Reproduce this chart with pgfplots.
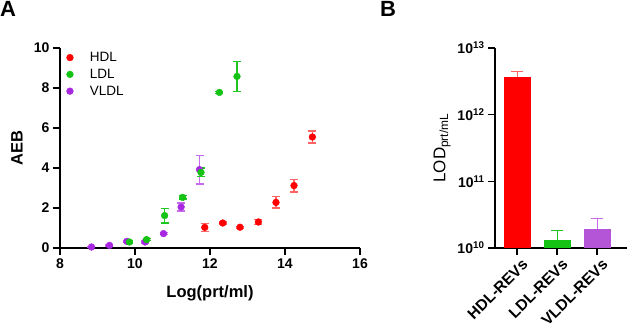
\documentclass[border=0pt]{standalone}
\usepackage{fontspec}
\setmainfont{Liberation Sans}
\usepackage{pgfplots}
\pgfplotsset{compat=1.18}
\usepackage{pgfplotstable}

\definecolor{hdl}{RGB}{255,0,0}
\definecolor{ldl}{RGB}{20,195,20}
\definecolor{vldl}{RGB}{168,40,225}
\definecolor{hdlerr}{RGB}{255,100,100}
\definecolor{ldlgreen}{RGB}{30,200,30}
\definecolor{vldlerr}{RGB}{200,105,235}
\definecolor{vldlbar}{RGB}{180,85,215}

% AEB versus particle concentration: x, y, error
\pgfplotstableread{
x y e
11.86 1.03 0.20
12.34 1.25 0.05
12.80 1.04 0.05
13.29 1.30 0.12
13.76 2.28 0.28
14.24 3.12 0.32
14.73 5.55 0.30
}\hdltab
\pgfplotstableread{
x y e
9.85 0.30 0.05
10.31 0.42 0.05
10.79 1.62 0.37
11.27 2.53 0.08
11.76 3.78 0.22
12.25 7.78 0.05
12.72 8.58 0.75
}\ldltab
\pgfplotstableread{
x y e
8.84 0.05 0.02
9.32 0.13 0.03
9.78 0.33 0.05
10.27 0.30 0.05
10.76 0.72 0.05
11.23 2.05 0.20
11.72 3.92 0.72
}\vldltab

\pgfplotsset{
  panel/.style={
    scale only axis,
    axis x line*=bottom, axis y line*=left,
    axis line style={line width=1.8pt},
    every tick/.style={black, line width=1.6pt},
    tick align=outside, major tick length=7pt,
    tick label style={font=\bfseries\fontsize{14}{14}\selectfont},
    /pgf/number format/assume math mode=true,
  },
  errstyle/.style={error bars/.cd, y dir=both, y explicit,
    error bar style={line width=1.1pt, draw=#1},
    error mark options={rotate=90, mark size=4pt, line width=1.1pt, draw=#1}},
}

\begin{document}
\begin{tikzpicture}
\useasboundingbox (0,0) rectangle (627pt,329pt);

\node[anchor=north west, inner sep=0pt, font=\bfseries\fontsize{22}{22}\selectfont] at (0pt,328pt) {A};
\node[anchor=north west, inner sep=0pt, font=\bfseries\fontsize{22}{22}\selectfont] at (380pt,328pt) {B};

% Panel A
\begin{axis}[panel,
  at={(60pt,81pt)}, anchor=south west,
  width=300pt, height=200pt,
  xmin=8, xmax=16, ymin=0, ymax=10,
  xtick={8,10,12,14,16}, ytick={0,2,4,6,8,10},
  clip=false,
  xlabel={Log(prt/ml)}, ylabel={AEB},
  every axis x label/.style={at={(rel axis cs:0.5,0)}, yshift=-45pt, anchor=center,
    font=\bfseries\fontsize{16.5}{16.5}\selectfont},
  every axis y label/.style={at={(rel axis cs:0,0.5)}, xshift=-43pt, rotate=90, anchor=center,
    font=\bfseries\fontsize{16.5}{16.5}\selectfont},
  legend style={at={(axis cs:8.02,10.0)}, anchor=north west, draw=none, fill=none,
    font=\fontsize{13.5}{13.5}\selectfont, row sep=2pt},
  legend cell align=left,
  legend image code/.code={\path (0pt,0pt) -- (24pt,0pt);
    \draw[#1] plot coordinates {(6pt,0pt)};},
]
\addlegendimage{only marks, mark=*, mark size=3.4pt, hdl, draw=none}
\addlegendentry{HDL}
\addlegendimage{only marks, mark=*, mark size=3.4pt, ldl, draw=none}
\addlegendentry{LDL}
\addlegendimage{only marks, mark=*, mark size=3.4pt, vldl, draw=none}
\addlegendentry{VLDL}

\addplot[forget plot, only marks, mark=*, mark size=3.4pt, hdl, mark options={draw=none, fill=hdl},
  errstyle={hdlerr}] table[x=x, y=y, y error=e] {\hdltab};
\addplot[forget plot, only marks, mark=*, mark size=3.4pt, vldl, mark options={draw=none, fill=vldl},
  errstyle={vldlerr}] table[x=x, y=y, y error=e] {\vldltab};
\addplot[forget plot, only marks, mark=*, mark size=3.4pt, ldl, mark options={draw=none, fill=ldl},
  errstyle={ldlgreen}] table[x=x, y=y, y error=e] {\ldltab};
\end{axis}

% Panel B
\begin{axis}[panel,
  at={(495pt,81pt)}, anchor=south west,
  width=132pt, height=200pt,
  ymode=log, ymin=1e10, ymax=1e13, log origin y=infty,
  ytick={1e10,1e11,1e12,1e13}, yminorticks=false,
  yticklabels={10\textsuperscript{10},10\textsuperscript{11},10\textsuperscript{12},10\textsuperscript{13}},
  xmin=-0.55, xmax=2.75,
  xtick={0,1,2},
  xticklabels={HDL-REVs,LDL-REVs,VLDL-REVs},
  xticklabel style={rotate=45, anchor=north east, font=\bfseries\fontsize{15.5}{15.5}\selectfont,
    inner sep=1pt, xshift=2pt, yshift=-4pt},
  ylabel={LOD\textsubscript{prt/mL}},
  every axis y label/.style={at={(rel axis cs:0,0.5)}, xshift=-53pt, rotate=90, anchor=center,
    font=\fontsize{17}{17}\selectfont},
  ybar, bar width=27pt, bar shift=0pt,
]
\addplot[fill=hdl, draw=none, error bars/.cd, y dir=plus, y explicit,
  error bar style={line width=1pt, draw=hdlerr},
  error mark options={rotate=90, mark size=6pt, line width=1pt, draw=hdlerr}]
  coordinates {(0,3.67e12) +- (0,0.80e12)};
\addplot[fill=ldl, draw=none, error bars/.cd, y dir=plus, y explicit,
  error bar style={line width=1pt, draw=ldlgreen},
  error mark options={rotate=90, mark size=6pt, line width=1pt, draw=ldlgreen}]
  coordinates {(1,1.33e10) +- (0,0.49e10)};
\addplot[fill=vldlbar, draw=none, error bars/.cd, y dir=plus, y explicit,
  error bar style={line width=1pt, draw=vldlerr},
  error mark options={rotate=90, mark size=6pt, line width=1pt, draw=vldlerr}]
  coordinates {(2,1.93e10) +- (0,0.82e10)};
\end{axis}
\end{tikzpicture}
\end{document}
